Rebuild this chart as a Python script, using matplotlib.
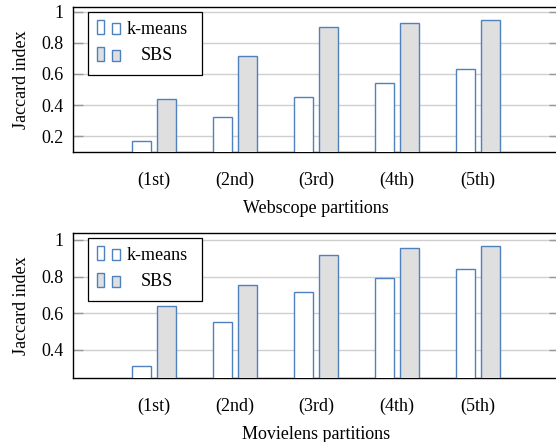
import matplotlib
matplotlib.use('Agg')
import matplotlib.pyplot as plt
import matplotlib.patches as patches
import numpy as np

# data
partitions = ['(1st)', '(2nd)', '(3rd)', '(4th)', '(5th)']
series_names = ['k-means', 'SBS']
webscope_kmeans = [0.17, 0.32, 0.45, 0.54, 0.63]
webscope_sbs = [0.44, 0.716, 0.90, 0.93, 0.95]
movielens_kmeans = [0.31, 0.554, 0.715, 0.79, 0.84]
movielens_sbs = [0.64, 0.755, 0.918, 0.955, 0.969]
webscope_yticks = [0.2, 0.4, 0.6, 0.8, 1.0]
movielens_yticks = [0.4, 0.6, 0.8, 1.0]
ytick_labels = {0.2: '0.2', 0.4: '0.4', 0.6: '0.6', 0.8: '0.8', 1.0: '1'}

EDGE = '#4f81bd'
FILLS = ['white', '#dfdfdf']
GRID = '#cfcfcf'
FONT = 'Liberation Serif'
FS = 13

plt.rcParams['font.family'] = [FONT, 'DejaVu Serif']
plt.rcParams['font.size'] = FS

fig = plt.figure(figsize=(5.56, 4.42), dpi=100)


def draw_legend(ax):
    """Hand-built pgfplots-style legend (two small bars per entry)."""
    ax.add_patch(patches.Rectangle((0.031, 0.531), 0.234, 0.435, transform=ax.transAxes,
                                   facecolor='white', edgecolor='black', lw=0.9, zorder=5))
    rows = [(0.814, 0.910, 0.890, 0.845), (0.628, 0.724, 0.703, 0.665)]
    for fill, name, (y0, top1, top2, ty) in zip(FILLS, series_names, rows):
        ax.add_patch(patches.Rectangle((0.049, y0), 0.015, top1 - y0, transform=ax.transAxes,
                                       facecolor=fill, edgecolor=EDGE, lw=1.0, zorder=6))
        ax.add_patch(patches.Rectangle((0.080, y0), 0.016, top2 - y0, transform=ax.transAxes,
                                       facecolor=fill, edgecolor=EDGE, lw=1.0, zorder=6))
        ax.text(0.173, ty, name, transform=ax.transAxes, ha='center', va='center',
                fontsize=FS, zorder=7)


def draw_panel(rect, kmeans, sbs, yticks, ylim, xlabel):
    ax = fig.add_axes(rect)
    x = np.arange(1, len(partitions) + 1)
    w = 0.235
    off = 0.155
    ax.bar(x - off, kmeans, w, bottom=0, color=FILLS[0], edgecolor=EDGE, lw=1.0, zorder=3)
    ax.bar(x + off, sbs, w, bottom=0, color=FILLS[1], edgecolor=EDGE, lw=1.0, zorder=3)
    ax.set_xlim(0, 6)
    ax.set_ylim(*ylim)
    ax.set_xticks(x)
    ax.set_xticklabels(partitions)
    ax.set_yticks(yticks)
    ax.set_yticklabels([ytick_labels[t] for t in yticks])
    ax.yaxis.grid(True, color=GRID, lw=1.0, zorder=0)
    ax.set_axisbelow(True)
    ax.tick_params(axis='x', length=0, pad=14)
    ax.tick_params(axis='y', direction='in', length=7, width=1.0, color='#999999',
                   left=True, right=True, pad=7)
    for s in ax.spines.values():
        s.set_linewidth(1.0)
        s.set_color('black')
    ax.set_xlabel(xlabel, labelpad=8)
    ax.set_ylabel('Jaccard index', labelpad=8)
    draw_legend(ax)
    return ax


# axes extend a little past the right edge, as in the cropped reference
left = 73 / 556
width = 486 / 556
height = 145 / 442
draw_panel([left, 1 - 152 / 442, width, height], webscope_kmeans, webscope_sbs,
           webscope_yticks, (0.097, 1.032), 'Webscope partitions')
draw_panel([left, 1 - 378 / 442, width, height], movielens_kmeans, movielens_sbs,
           movielens_yticks, (0.247, 1.038), 'Movielens partitions')

fig.savefig('out.png', dpi=100)
